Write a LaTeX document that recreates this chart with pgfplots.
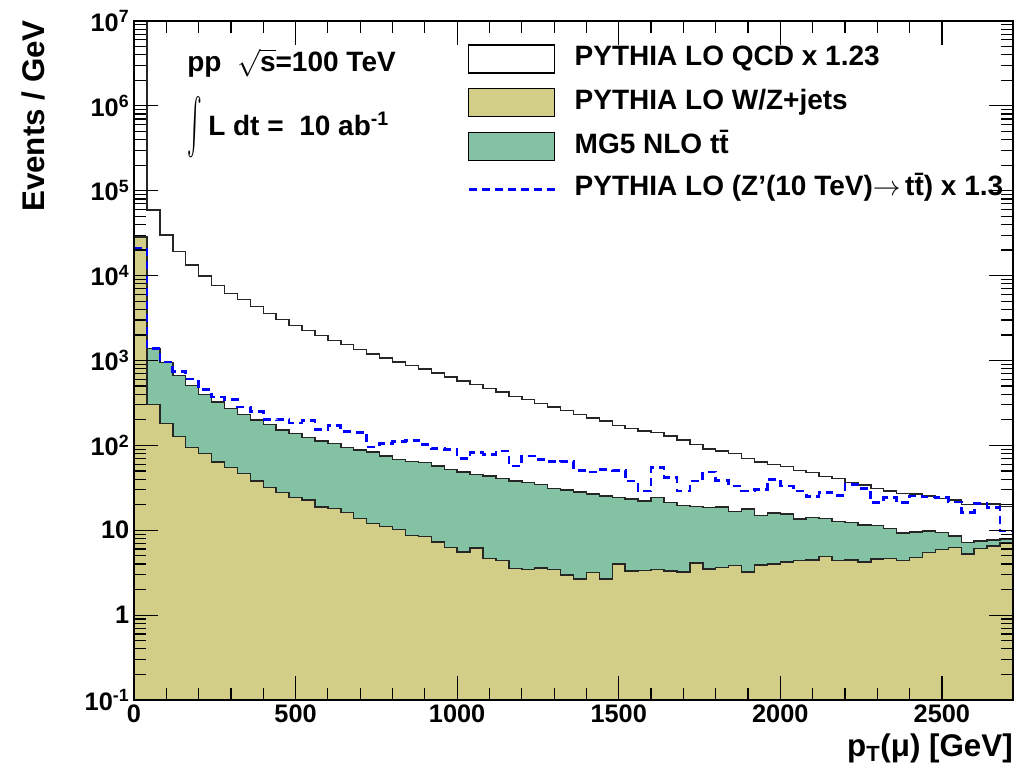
\documentclass[border=0pt]{standalone}
\usepackage{fontspec}
\setmainfont{Liberation Sans}
\usepackage{graphicx}
\usepackage{pgfplots}
\usepackage{pgfplotstable}
\pgfplotsset{compat=1.18}
\definecolor{wzcol}{RGB}{211,206,135}
\definecolor{ttcol}{RGB}{132,194,164}
\definecolor{zpcol}{RGB}{0,0,255}

% bin left edges (40 GeV bins), stacked tops: qcd = total, stk = W/Z + ttbar, wz = W/Z, zp = Z' signal
\pgfplotstableread{
x qcd stk wz zp
0 3e7 28500 28000 21000
40 59000 1380 303 1390
80 30000 953 180 960
120 19200 670 128 747
160 13400 507 95 608
200 9950 397 80 455
240 7650 326 63.7 370
280 6200 270 54.7 347
320 5200 231 46.9 282
360 4330 198 38.1 249
400 3560 175 31.8 202
440 3030 152 27.8 200
480 2590 138 24.3 184
520 2260 123 22.6 197
560 1980 112 18.8 155
600 1710 105 18 172
640 1540 94 16.2 146
680 1340 88 13.8 143
720 1200 83.4 12 96
760 1070 74.8 11 105
800 964 68.4 10.2 111
840 879 64.2 8.7 115
880 798 62.6 8.45 102
920 716 57.2 7.3 92
960 643 52.3 6.28 90
1000 571 48.6 5.57 70
1040 522 45.6 6.2 82
1080 471 43.6 4.67 78
1120 423 40.6 4.37 86
1160 379 38.1 3.55 57
1200 347 36.5 3.43 75
1240 311 34.8 3.6 68
1280 284 31 3.43 64
1320 258 29.8 2.97 65
1360 231 28.3 2.65 51
1400 211 26.6 3.19 48.6
1440 193 25.4 2.66 52
1480 172 24.3 3.99 51
1520 157 23.2 3.33 38
1560 147 22.2 3.36 29
1600 141 24.3 3.43 55
1640 129 21.2 3.33 42
1680 115 19.7 3.24 29
1720 102 19 4.1 38
1760 91 18.5 3.5 48.6
1800 85.7 18.8 3.65 38.8
1840 80.5 16.6 3.82 33.3
1880 70.3 17.7 3.24 29
1920 63.6 15 3.89 30.4
1960 59.8 15.9 3.99 39.9
2000 56.2 15.5 4.25 33.3
2040 50.8 13.5 4.37 29
2080 47.7 14.1 4.45 25
2120 42.9 13.7 4.91 27.8
2160 40.6 12.6 4.37 25.8
2200 36.5 12.3 4.45 34.8
2240 34 11.6 4.25 31
2280 31 11.3 4.57 21.2
2320 28.9 10.5 4.67 24.3
2360 27.2 9.25 4.37 21.2
2400 26.6 9.57 4.79 25.4
2440 25.4 9.84 5.45 24.7
2480 23.8 9.4 5.9 24.3
2520 22.7 8.6 6.28 21.6
2560 20 7.2 5.24 16.2
2600 20.5 7.5 6.11 20.8
2640 20.5 7.7 6.56 18.5
2680 19 7.9 7.2 9.8
2720 19 7.9 7.2 9.8
}\hist

\begin{document}
\begin{tikzpicture}
\begin{axis}[
  scale only axis, width=659.25pt, height=509.25pt,
  at={(0,0)}, anchor=south west,
  ymode=log, log origin y=infty,
  xmin=0, xmax=2720, ymin=0.1, ymax=1e7,
  xtick={0,500,1000,1500,2000,2500},
  xticklabels={0,500,1000,1500,2000,2500},
  minor x tick num=4,
  ytick={0.1,1,10,100,1000,10000,100000,1000000,10000000},
  yticklabels={10\textsuperscript{-1},1,10,10\textsuperscript{2},10\textsuperscript{3},10\textsuperscript{4},10\textsuperscript{5},10\textsuperscript{6},10\textsuperscript{7}},
  minor ytick={0.2,0.3,0.4,0.5,0.6,0.7,0.8,0.9,2,3,4,5,6,7,8,9,20,30,40,50,60,70,80,90,200,300,400,500,600,700,800,900,2000,3000,4000,5000,6000,7000,8000,9000,20000,30000,40000,50000,60000,70000,80000,90000,200000,300000,400000,500000,600000,700000,800000,900000,2000000,3000000,4000000,5000000,6000000,7000000,8000000,9000000},
  tick align=inside, tick pos=both,
  major tick length=18pt, minor tick length=9pt,
  tick style={black, line width=0.9pt},
  axis line style={black, line width=1.2pt},
  tick label style={font=\fontsize{19}{19}\selectfont\bfseries},
  axis on top,
  legend style={at={(rel axis cs:0.379,0.966)}, anchor=north west, draw=none, fill=none,
    inner sep=0pt, font=\fontsize{21}{21}\selectfont\bfseries, row sep=11pt,
    nodes={inner sep=0pt, text height=15pt, text depth=5pt},
    /tikz/every odd column/.append style={column sep=14pt}},
  legend cell align=left,
]
\addplot[const plot, fill=white, draw=black!85, line width=1.1pt, forget plot] table[x=x, y=qcd] {\hist} \closedcycle;
\addplot[const plot, fill=ttcol, draw=black!85, line width=1.1pt, forget plot] table[x=x, y=stk] {\hist} \closedcycle;
\addplot[const plot, fill=wzcol, draw=black!85, line width=1.1pt, forget plot] table[x=x, y=wz] {\hist} \closedcycle;
\addplot[const plot, draw=zpcol, line width=2pt, dash pattern=on 6pt off 3.8pt, forget plot] table[x=x, y=zp] {\hist};

\addlegendimage{legend image code/.code={\draw[black, line width=0.9pt, fill=white] (0pt,-10.5pt) rectangle (64.5pt,10.5pt);}}
\addlegendentry{PYTHIA LO QCD x 1.23}
\addlegendimage{legend image code/.code={\draw[black, line width=0.9pt, fill=wzcol] (0pt,-10.5pt) rectangle (64.5pt,10.5pt);}}
\addlegendentry{PYTHIA LO W/Z+jets}
\addlegendimage{legend image code/.code={\draw[black, line width=0.9pt, fill=ttcol] (0pt,-10.5pt) rectangle (64.5pt,10.5pt);}}
\addlegendentry{MG5 NLO t\={t}}
\addlegendimage{legend image code/.code={\draw[zpcol, line width=2pt, dash pattern=on 6pt off 3.8pt] (0pt,0pt) -- (64.5pt,0pt);}}
\addlegendentry{PYTHIA LO (Z’(10 TeV)$\rightarrow$\,t\={t}) x 1.3}
\end{axis}

\node[anchor=base west, inner sep=0pt, font=\fontsize{21}{21}\selectfont\bfseries] at (39.75pt,471pt) {pp\ \ $\sqrt{\hbox{s}}$=100 TeV};
\node[inner sep=0pt] at (45.5pt,429.5pt) {\resizebox*{11pt}{46pt}{$\int$}};
\node[anchor=base west, inner sep=0pt, font=\fontsize{21}{21}\selectfont\bfseries] at (55.5pt,423pt) {L dt =\ \ 10 ab\textsuperscript{-1}};

\node[rotate=90, anchor=base east, inner sep=0pt, font=\fontsize{23.5}{23.5}\selectfont\bfseries] at (-66.75pt,510pt) {Events / GeV};
\node[anchor=base east, inner sep=0pt, font=\fontsize{23.5}{23.5}\selectfont\bfseries] at (659.25pt,-42.75pt) {p\textsubscript{T}(μ) [GeV]};

\pgfresetboundingbox
\path[use as bounding box] (-100.5pt,-60pt) rectangle (667.5pt,525pt);
\end{tikzpicture}
\end{document}
